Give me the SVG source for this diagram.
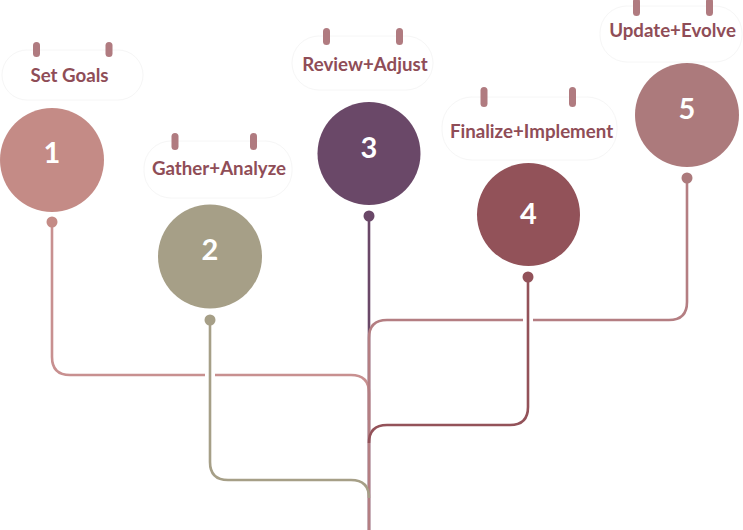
<svg xmlns="http://www.w3.org/2000/svg" width="743" height="530" viewBox="0 0 743 530">
<style>
.card{fill:#ffffff;stroke:#f6f6f6;stroke-width:1}
.pill{fill:#b07b80}
.lbl{font-family:Lato,"Open Sans","Liberation Sans",sans-serif;font-weight:700;font-size:18.7px;fill:#8f4d57;text-anchor:middle}
.num{font-family:Lato,"Open Sans","Liberation Sans",sans-serif;font-weight:700;font-size:29px;fill:#ffffff;text-anchor:middle}
.ln{fill:none;stroke-width:2.6;stroke-linecap:butt}
.halo{fill:none;stroke:#ffffff;stroke-width:10}
</style>
<rect width="743" height="530" fill="#ffffff"/>
<g id="connectors">
<path class="ln" stroke="#6a4868" d="M369,216 V530"/>
<path class="ln" stroke="#c89090" d="M52,222 V357 Q52,375 70,375 H351 Q369,375 369,393 V420"/>
<path class="ln" stroke="#b47e82" d="M687,178 V302 Q687,320 669,320 H387 Q369,320 369,338 V530"/>
<path class="halo" d="M210,326 V455"/>
<path class="ln" stroke="#a69f87" d="M210,320 V462 Q210,480 228,480 H351 Q369,480 369,498"/>
<path class="halo" d="M528,283 V400"/>
<path class="ln" stroke="#935259" d="M528,277 V407 Q528,425 510,425 H387 Q369,425 369,443"/>
<circle cx="52" cy="222" r="5.5" fill="#c48b86"/>
<circle cx="210" cy="320" r="5.5" fill="#a69f87"/>
<circle cx="369" cy="216" r="5.5" fill="#6a4868"/>
<circle cx="528" cy="277" r="5.5" fill="#925259"/>
<circle cx="687" cy="178" r="5.5" fill="#ac7a7c"/>
</g>
<g id="node1">
<rect class="card" x="2" y="50" width="141" height="50" rx="25"/>
<rect class="pill" x="33" y="42" width="7" height="15" rx="3.5"/>
<rect class="pill" x="105.5" y="42" width="7" height="15" rx="3.5"/>
<text class="lbl" x="69.5" y="82">Set Goals</text>
<circle cx="52" cy="160" r="52" fill="#c48b86"/>
<text class="num" x="52" y="163">1</text>
</g>
<g id="node2">
<rect class="card" x="144" y="141" width="148" height="57" rx="27"/>
<rect class="pill" x="171.5" y="133" width="7" height="17" rx="3.5"/>
<rect class="pill" x="250" y="133" width="7" height="17" rx="3.5"/>
<text class="lbl" x="219" y="175">Gather+Analyze</text>
<circle cx="210" cy="256.5" r="52" fill="#a69f87"/>
<text class="num" x="210" y="260">2</text>
</g>
<g id="node3">
<rect class="card" x="292" y="36" width="141" height="54" rx="27"/>
<rect class="pill" x="323" y="28" width="7" height="17" rx="3.5"/>
<rect class="pill" x="396" y="28" width="7" height="17" rx="3.5"/>
<text class="lbl" x="365" y="71">Review+Adjust</text>
<circle cx="369" cy="153.5" r="51.5" fill="#6a4868"/>
<text class="num" x="369" y="158">3</text>
</g>
<g id="node4">
<rect class="card" x="442" y="97" width="175" height="63" rx="30"/>
<rect class="pill" x="480.5" y="87" width="7" height="20" rx="3.5"/>
<rect class="pill" x="569" y="87" width="7" height="20" rx="3.5"/>
<text class="lbl" x="531.5" y="138">Finalize+Implement</text>
<circle cx="528.5" cy="214.5" r="51.5" fill="#925259"/>
<text class="num" x="528.5" y="224">4</text>
</g>
<g id="node5">
<rect class="card" x="600" y="6" width="142" height="56" rx="27"/>
<rect class="pill" x="633" y="-2" width="7" height="18" rx="3.5"/>
<rect class="pill" x="706" y="-2" width="7" height="18" rx="3.5"/>
<text class="lbl" x="672.5" y="37">Update+Evolve</text>
<circle cx="687" cy="115" r="52" fill="#ac7a7c"/>
<text class="num" x="687" y="119">5</text>
</g>
</svg>
